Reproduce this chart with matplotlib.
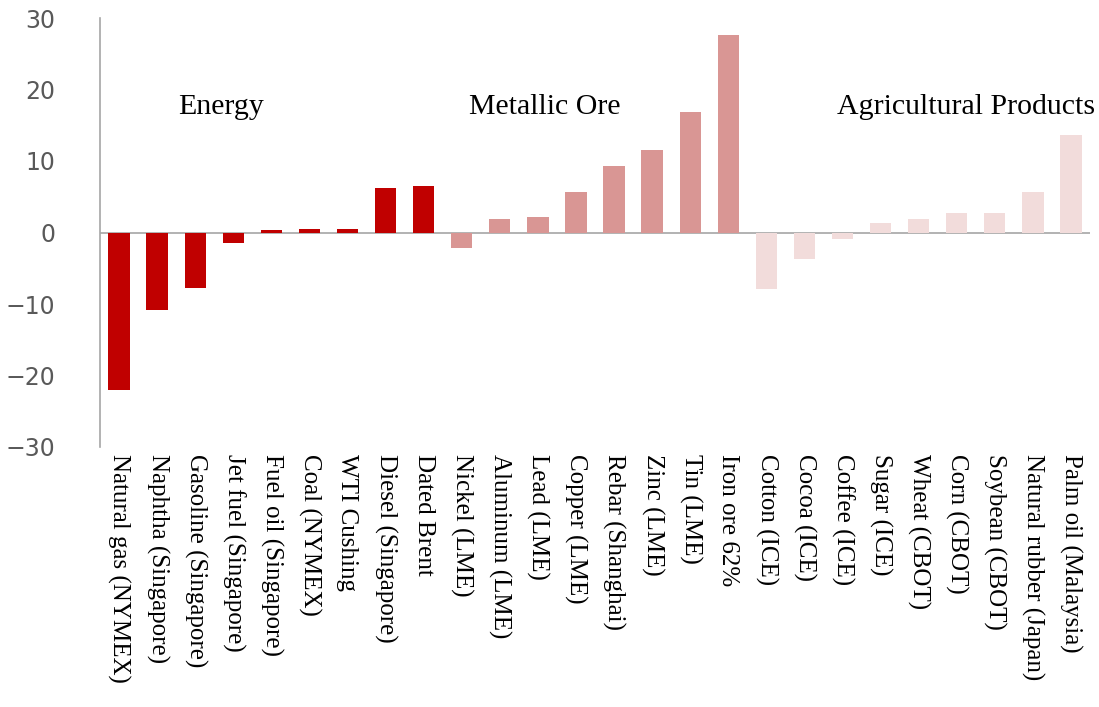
import matplotlib.pyplot as plt
import numpy as np

# commodity price changes (%), grouped by sector
energy = ["Natural gas (NYMEX)", "Naphtha (Singapore)", "Gasoline (Singapore)",
          "Jet fuel (Singapore)", "Fuel oil (Singapore)", "Coal (NYMEX)",
          "WTI Cushing", "Diesel (Singapore)", "Dated Brent"]
energy_vals = [-22.0, -10.8, -7.8, -1.5, 0.3, 0.5, 0.5, 6.2, 6.5]

metals = ["Nickel (LME)", "Aluminum (LME)", "Lead (LME)", "Copper (LME)",
          "Rebar (Shanghai)", "Zinc (LME)", "Tin (LME)", "Iron ore 62%"]
metals_vals = [-2.2, 1.9, 2.1, 5.7, 9.3, 11.6, 16.8, 27.6]

agri = ["Cotton (ICE)", "Cocoa (ICE)", "Coffee (ICE)", "Sugar (ICE)",
        "Wheat (CBOT)", "Corn (CBOT)", "Soybean (CBOT)",
        "Natural rubber (Japan)", "Palm oil (Malaysia)"]
agri_vals = [-7.9, -3.7, -0.9, 1.3, 1.9, 2.7, 2.7, 5.7, 13.7]

group_names = ["Energy", "Metallic Ore", "Agricultural Products"]
group_colors = ["#C00000", "#D99694", "#F2DCDB"]

labels = energy + metals + agri
values = energy_vals + metals_vals + agri_vals
colors = ([group_colors[0]] * len(energy) + [group_colors[1]] * len(metals)
          + [group_colors[2]] * len(agri))

fig = plt.figure(figsize=(10.99, 7.07), dpi=100)
ax = fig.add_axes([100 / 1099, 1 - 447 / 707, 990 / 1099, 429 / 707])

x = np.arange(len(labels))
ax.bar(x, values, width=0.56, color=colors, zorder=2)
ax.axhline(0, color="#A6A6A6", linewidth=1.2, zorder=1)

ax.set_xlim(-0.5, len(labels) - 0.5)
ax.set_ylim(-30, 30)
ax.set_yticks(range(-30, 31, 10))

ax.set_xticks(x)
ax.set_xticklabels(labels, rotation=270, fontsize=18, family="Liberation Serif",
                   va="top", ha="center")
ax.tick_params(axis="x", length=0, pad=5)
ax.tick_params(axis="y", length=0, pad=32, labelsize=17, labelcolor="#595959")

for s in ["top", "right", "bottom"]:
    ax.spines[s].set_visible(False)
ax.spines["left"].set_color("#A6A6A6")
ax.spines["left"].set_linewidth(1.2)

# sector captions above each group of bars
group_x = [2.68, 11.19, 22.24]
for name, gx in zip(group_names, group_x):
    ax.text(gx, 17.6, name, ha="center", va="center", fontsize=21.5,
            family="Liberation Serif", color="black")

fig.savefig("out.png", dpi=100, facecolor="white")
